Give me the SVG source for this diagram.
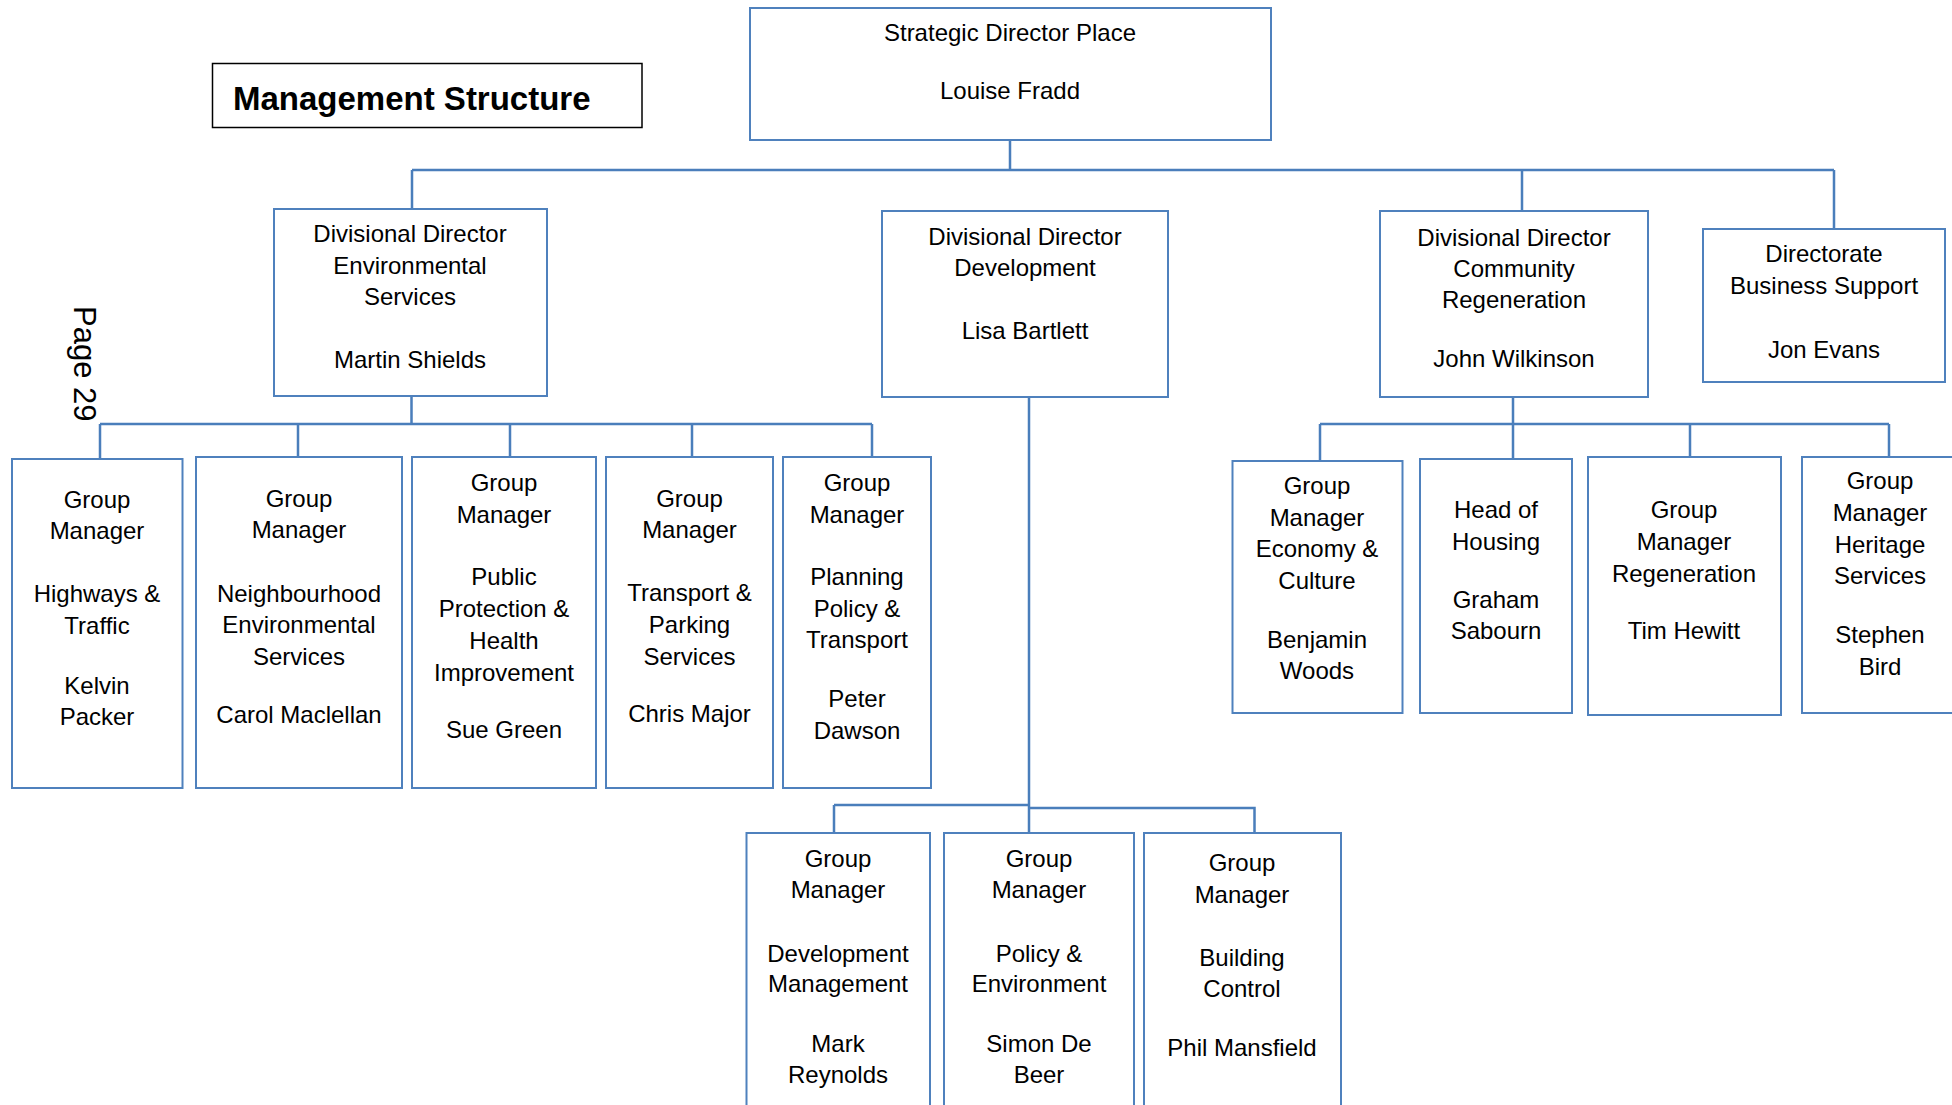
<svg xmlns="http://www.w3.org/2000/svg" width="1952" height="1105" viewBox="0 0 1952 1105">
<style>
.box{fill:#ffffff;stroke:#4F81BD;stroke-width:2}
.ln{fill:none;stroke:#4A7EBB;stroke-width:2.5}
text{font-family:"Liberation Sans",Arial,sans-serif;font-size:24px;fill:#000000;text-anchor:middle}
.title{font-weight:bold;font-size:33px;text-anchor:start}
.page{font-size:31px;text-anchor:start}
</style>
<rect x="0" y="0" width="1952" height="1105" fill="#ffffff"/>
<g id="title">
<rect x="212.5" y="63.5" width="429.5" height="64" fill="#ffffff" stroke="#000000" stroke-width="1.5"/>
<text class="title" x="233" y="110">Management Structure</text>
</g>
<g id="page-label">
<text class="page" transform="translate(74,306) rotate(90)">Page 29</text>
</g>
<g id="connectors">
<path class="ln" d="M1010,140 V170 M412,170 H1834 M412,170 V209 M1522,170 V211 M1834,170 V229"/>
<path class="ln" d="M411.5,396 V424 M100,424 H872 M100,424 V459 M298,424 V457 M510,424 V457 M692,424 V457 M872,424 V457"/>
<path class="ln" d="M1029,397 V833 M834,805 H1029 M834,805 V833 M1029,808 H1254.5 V833"/>
<path class="ln" d="M1513,397 V424 M1320,424 H1889 M1320,424 V461 M1513,424 V459 M1690,424 V459 M1889,424 V457"/>
</g>
<g id="strategic-director">
<rect class="box" x="750" y="8" width="521" height="132"/>
<text x="1010" y="41">Strategic Director Place</text>
<text x="1010" y="99">Louise Fradd</text>
</g>
<g id="dd-environmental">
<rect class="box" x="274" y="209" width="273" height="187"/>
<text x="410" y="242">Divisional Director</text>
<text x="410" y="273.5">Environmental</text>
<text x="410" y="305">Services</text>
<text x="410" y="368">Martin Shields</text>
</g>
<g id="dd-development">
<rect class="box" x="882" y="211" width="286" height="186"/>
<text x="1025" y="245">Divisional Director</text>
<text x="1025" y="276">Development</text>
<text x="1025" y="339">Lisa Bartlett</text>
</g>
<g id="dd-community">
<rect class="box" x="1380" y="211" width="268" height="186"/>
<text x="1514" y="245.5">Divisional Director</text>
<text x="1514" y="277">Community</text>
<text x="1514" y="308">Regeneration</text>
<text x="1514" y="367">John Wilkinson</text>
</g>
<g id="business-support">
<rect class="box" x="1703" y="229" width="242" height="153"/>
<text x="1824" y="262">Directorate</text>
<text x="1824" y="294">Business Support</text>
<text x="1824" y="358">Jon Evans</text>
</g>
<g id="gm-highways">
<rect class="box" x="12" y="459" width="170.5" height="329"/>
<text x="97" y="507.5">Group</text>
<text x="97" y="539">Manager</text>
<text x="97" y="601.5">Highways &amp;</text>
<text x="97" y="633.5">Traffic</text>
<text x="97" y="694">Kelvin</text>
<text x="97" y="725">Packer</text>
</g>
<g id="gm-neighbourhood">
<rect class="box" x="196" y="457" width="206" height="331"/>
<text x="299" y="506.7">Group</text>
<text x="299" y="538">Manager</text>
<text x="299" y="601.7">Neighbourhood</text>
<text x="299" y="633">Environmental</text>
<text x="299" y="665">Services</text>
<text x="299" y="722.7">Carol Maclellan</text>
</g>
<g id="gm-public-protection">
<rect class="box" x="412" y="457" width="184" height="331"/>
<text x="504" y="490.7">Group</text>
<text x="504" y="522.7">Manager</text>
<text x="504" y="585">Public</text>
<text x="504" y="617">Protection &amp;</text>
<text x="504" y="649">Health</text>
<text x="504" y="681">Improvement</text>
<text x="504" y="738">Sue Green</text>
</g>
<g id="gm-transport">
<rect class="box" x="606" y="457" width="167" height="331"/>
<text x="689.5" y="506.7">Group</text>
<text x="689.5" y="538">Manager</text>
<text x="689.5" y="601">Transport &amp;</text>
<text x="689.5" y="633">Parking</text>
<text x="689.5" y="665">Services</text>
<text x="689.5" y="722">Chris Major</text>
</g>
<g id="gm-planning">
<rect class="box" x="783" y="457" width="148" height="331"/>
<text x="857" y="490.7">Group</text>
<text x="857" y="522.7">Manager</text>
<text x="857" y="585">Planning</text>
<text x="857" y="616.7">Policy &amp;</text>
<text x="857" y="648">Transport</text>
<text x="857" y="707">Peter</text>
<text x="857" y="739">Dawson</text>
</g>
<g id="gm-development-management">
<rect class="box" x="746.5" y="833" width="183.5" height="290"/>
<text x="838" y="867">Group</text>
<text x="838" y="898">Manager</text>
<text x="838" y="962">Development</text>
<text x="838" y="992">Management</text>
<text x="838" y="1052">Mark</text>
<text x="838" y="1083">Reynolds</text>
</g>
<g id="gm-policy-environment">
<rect class="box" x="944" y="833" width="190" height="290"/>
<text x="1039" y="867">Group</text>
<text x="1039" y="898">Manager</text>
<text x="1039" y="962">Policy &amp;</text>
<text x="1039" y="992">Environment</text>
<text x="1039" y="1052">Simon De</text>
<text x="1039" y="1083">Beer</text>
</g>
<g id="gm-building-control">
<rect class="box" x="1144" y="833" width="197" height="290"/>
<text x="1242" y="871">Group</text>
<text x="1242" y="903">Manager</text>
<text x="1242" y="966">Building</text>
<text x="1242" y="997">Control</text>
<text x="1242" y="1056">Phil Mansfield</text>
</g>
<g id="gm-economy-culture">
<rect class="box" x="1232.5" y="461" width="170" height="252"/>
<text x="1317" y="494">Group</text>
<text x="1317" y="525.7">Manager</text>
<text x="1317" y="557">Economy &amp;</text>
<text x="1317" y="589">Culture</text>
<text x="1317" y="647.7">Benjamin</text>
<text x="1317" y="679">Woods</text>
</g>
<g id="head-of-housing">
<rect class="box" x="1420" y="459" width="152" height="254"/>
<text x="1496" y="518">Head of</text>
<text x="1496" y="550">Housing</text>
<text x="1496" y="608">Graham</text>
<text x="1496" y="639">Sabourn</text>
</g>
<g id="gm-regeneration">
<rect class="box" x="1588" y="457" width="193" height="258"/>
<text x="1684" y="518">Group</text>
<text x="1684" y="550">Manager</text>
<text x="1684" y="581.7">Regeneration</text>
<text x="1684" y="639">Tim Hewitt</text>
</g>
<g id="gm-heritage">
<rect class="box" x="1802" y="457" width="170" height="256"/>
<text x="1880" y="489">Group</text>
<text x="1880" y="521">Manager</text>
<text x="1880" y="552.7">Heritage</text>
<text x="1880" y="584">Services</text>
<text x="1880" y="642.7">Stephen</text>
<text x="1880" y="675">Bird</text>
</g>
</svg>
